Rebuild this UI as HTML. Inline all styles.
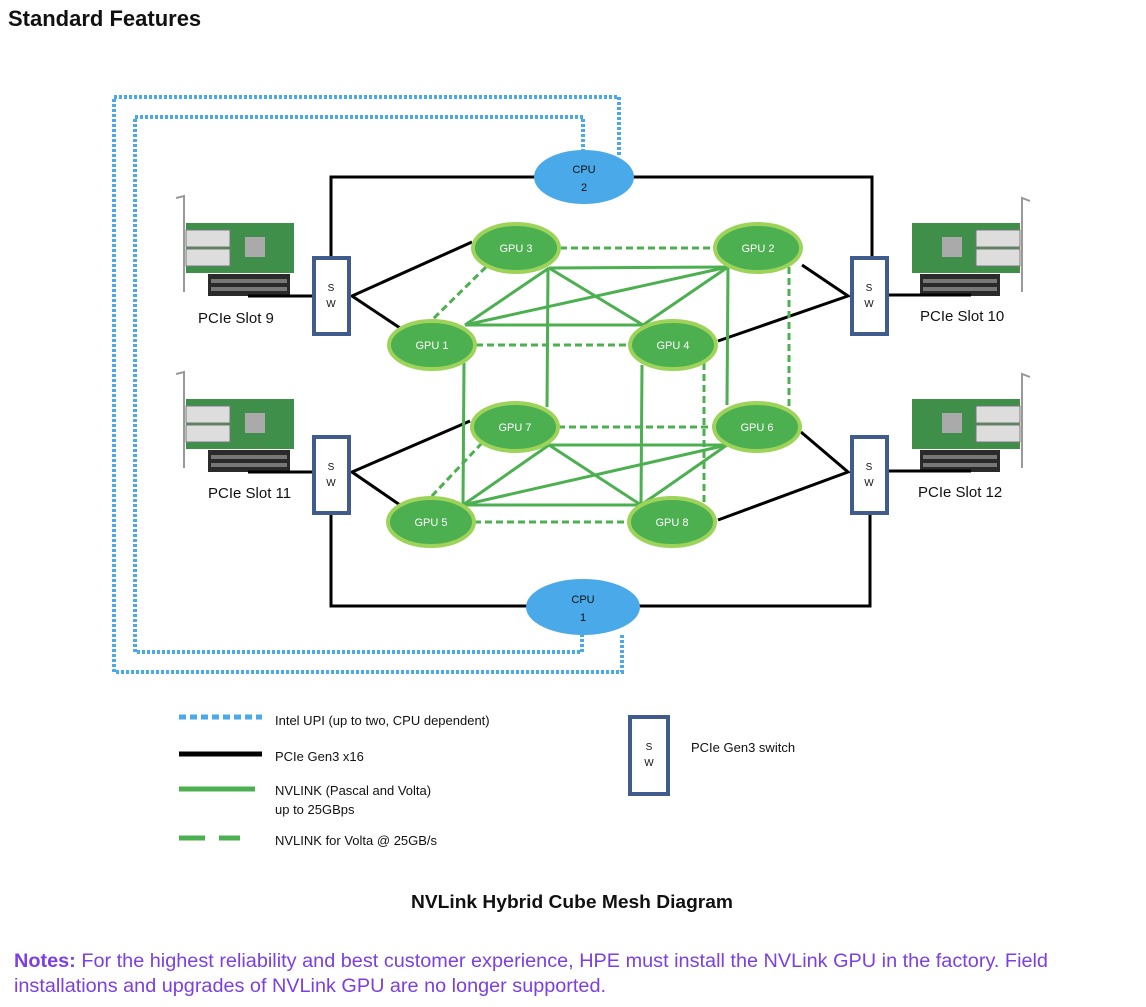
<!DOCTYPE html>
<html><head><meta charset="utf-8"><style>
html,body{margin:0;padding:0;background:#fff;}
svg{display:block;font-family:"Liberation Sans",sans-serif;}
</style></head><body>
<svg width="1146" height="1007" viewBox="0 0 1146 1007" xmlns="http://www.w3.org/2000/svg">
<defs>
<g id="cardL">
  <path d="M176,198 L184,196 L184,292" fill="none" stroke="#999" stroke-width="2"/>
  <rect x="186" y="223" width="108" height="50" fill="#3f8f4a"/>
  <rect x="186" y="230" width="44" height="17" fill="#ddd" stroke="#777"/>
  <rect x="186" y="249" width="44" height="17" fill="#ddd" stroke="#777"/>
  <rect x="245" y="237" width="20" height="20" fill="#aaa"/>
  <rect x="208" y="274" width="82" height="22" fill="#2a2a2a"/>
  <rect x="211" y="279" width="76" height="4" fill="#777"/>
  <rect x="211" y="287" width="76" height="4" fill="#777"/>
</g>
<g id="cardR">
  <path d="M1030,201 L1022,198 L1022,292" fill="none" stroke="#999" stroke-width="2"/>
  <rect x="912" y="223" width="108" height="50" fill="#3f8f4a"/>
  <rect x="976" y="230" width="44" height="17" fill="#ddd" stroke="#777"/>
  <rect x="976" y="249" width="44" height="17" fill="#ddd" stroke="#777"/>
  <rect x="942" y="237" width="20" height="20" fill="#aaa"/>
  <rect x="920" y="274" width="80" height="22" fill="#2a2a2a"/>
  <rect x="923" y="279" width="74" height="4" fill="#777"/>
  <rect x="923" y="287" width="74" height="4" fill="#777"/>
</g>
</defs>

<text x="8" y="26" font-size="22" font-weight="bold" fill="#111">Standard Features</text>

<!-- UPI dotted -->
<g fill="none" stroke="#4aa9e8" stroke-width="4" stroke-dasharray="3 2">
  <polyline points="619,155 619,97 114,97 114,672 622,672 622,634"/>
  <polyline points="583,152 583,117 135,117 135,652 582,652 582,634"/>
</g>

<!-- cards -->
<use href="#cardL"/>
<use href="#cardL" transform="translate(0,176)"/>
<use href="#cardR"/>
<use href="#cardR" transform="translate(0,176)"/>

<!-- PCIe black -->
<g fill="none" stroke="#000" stroke-width="3">
  <polyline points="331,256 331,177 872,177 872,256"/>
  <polyline points="331,513 331,606 870,606 870,513"/>
  <line x1="248" y1="296" x2="312" y2="296"/>
  <line x1="248" y1="472" x2="312" y2="472"/>
  <line x1="888" y1="295" x2="971" y2="295"/>
  <line x1="888" y1="471" x2="971" y2="471"/>
  <polyline points="472,242 352,296 400,328"/>
  <polyline points="802,265 848,296 718,341"/>
  <polyline points="470,421 352,472 400,505"/>
  <polyline points="801,432 848,472 718,520"/>
</g>

<!-- NVLink solid -->
<g stroke="#4caf50" stroke-width="3" fill="none">
  <line x1="549" y1="268" x2="728" y2="267"/>
  <line x1="465" y1="325" x2="643" y2="325"/>
  <line x1="549" y1="268" x2="465" y2="325"/>
  <line x1="549" y1="268" x2="643" y2="325"/>
  <line x1="728" y1="267" x2="465" y2="325"/>
  <line x1="728" y1="267" x2="643" y2="325"/>
  <line x1="548" y1="268" x2="547" y2="407"/>
  <line x1="728" y1="267" x2="727" y2="405"/>
  <line x1="464" y1="363" x2="463" y2="505"/>
  <line x1="642" y1="365" x2="641" y2="505"/>
  <line x1="549" y1="445" x2="727" y2="445"/>
  <line x1="463" y1="505" x2="641" y2="505"/>
  <line x1="549" y1="445" x2="463" y2="505"/>
  <line x1="549" y1="445" x2="641" y2="505"/>
  <line x1="727" y1="445" x2="463" y2="505"/>
  <line x1="727" y1="445" x2="641" y2="505"/>
</g>
<!-- NVLink dashed -->
<g stroke="#4caf50" stroke-width="3" fill="none" stroke-dasharray="7 4">
  <line x1="560" y1="248" x2="716" y2="248"/>
  <line x1="476" y1="345" x2="630" y2="345"/>
  <line x1="558" y1="427" x2="714" y2="427"/>
  <line x1="474" y1="522" x2="630" y2="522"/>
  <line x1="486" y1="267" x2="432" y2="320"/>
  <line x1="482" y1="443" x2="430" y2="498"/>
  <line x1="789" y1="267" x2="789" y2="408"/>
  <line x1="704" y1="363" x2="704" y2="505"/>
</g>

<!-- GPUs -->
<g fill="#4caf50" stroke="#9ed35a" stroke-width="4">
  <ellipse cx="516" cy="248" rx="43" ry="24"/>
  <ellipse cx="758" cy="248" rx="43" ry="24"/>
  <ellipse cx="432" cy="345" rx="43" ry="24"/>
  <ellipse cx="673" cy="345" rx="43" ry="24"/>
  <ellipse cx="515" cy="427" rx="43" ry="24"/>
  <ellipse cx="757" cy="427" rx="43" ry="24"/>
  <ellipse cx="431" cy="522" rx="43" ry="24"/>
  <ellipse cx="672" cy="522" rx="43" ry="24"/>
</g>
<g fill="#fff" font-size="11" text-anchor="middle">
  <text x="516" y="252">GPU 3</text>
  <text x="758" y="252">GPU 2</text>
  <text x="432" y="349">GPU 1</text>
  <text x="673" y="349">GPU 4</text>
  <text x="515" y="431">GPU 7</text>
  <text x="757" y="431">GPU 6</text>
  <text x="431" y="526">GPU 5</text>
  <text x="672" y="526">GPU 8</text>
</g>

<!-- CPUs -->
<ellipse cx="584" cy="177" rx="50" ry="27" fill="#4aa9e8"/>
<ellipse cx="583" cy="607" rx="57" ry="28" fill="#4aa9e8"/>
<g font-size="11" text-anchor="middle" fill="#111">
  <text x="584" y="173">CPU</text><text x="584" y="191">2</text>
  <text x="583" y="603">CPU</text><text x="583" y="621">1</text>
</g>

<!-- Switches -->
<g fill="#fff" stroke="#3f5c8c" stroke-width="4">
  <rect x="314" y="258" width="35" height="76"/>
  <rect x="852" y="258" width="35" height="76"/>
  <rect x="314" y="437" width="35" height="76"/>
  <rect x="852" y="437" width="35" height="76"/>
  <rect x="630" y="717" width="38" height="77"/>
</g>
<g font-size="10" text-anchor="middle" fill="#111">
  <text x="331" y="291">S</text><text x="331" y="307">W</text>
  <text x="869" y="291">S</text><text x="869" y="307">W</text>
  <text x="331" y="470">S</text><text x="331" y="486">W</text>
  <text x="869" y="470">S</text><text x="869" y="486">W</text>
  <text x="649" y="750">S</text><text x="649" y="766">W</text>
</g>

<g font-size="15" fill="#111">
  <text x="198" y="323">PCIe Slot 9</text>
  <text x="920" y="321">PCIe Slot 10</text>
  <text x="208" y="498">PCIe Slot 11</text>
  <text x="918" y="497">PCIe Slot 12</text>
</g>

<!-- Legend -->
<line x1="179" y1="717" x2="262" y2="717" stroke="#4aa9e8" stroke-width="5" stroke-dasharray="7 4"/>
<line x1="179" y1="754" x2="262" y2="754" stroke="#000" stroke-width="5"/>
<line x1="179" y1="789" x2="255" y2="789" stroke="#4caf50" stroke-width="5"/>
<line x1="179" y1="838" x2="205" y2="838" stroke="#4caf50" stroke-width="5"/>
<line x1="219" y1="838" x2="240" y2="838" stroke="#4caf50" stroke-width="5"/>
<g font-size="13" fill="#111">
  <text x="275" y="725">Intel UPI (up to two, CPU dependent)</text>
  <text x="275" y="761">PCIe Gen3 x16</text>
  <text x="275" y="795">NVLINK (Pascal and Volta)</text>
  <text x="275" y="814">up to 25GBps</text>
  <text x="275" y="845">NVLINK for Volta @ 25GB/s</text>
  <text x="691" y="752">PCIe Gen3 switch</text>
</g>

<text x="572" y="908" font-size="18" font-weight="bold" text-anchor="middle" fill="#111" textLength="322" lengthAdjust="spacingAndGlyphs">NVLink Hybrid Cube Mesh Diagram</text>

<g font-size="19" fill="#7b3fe4">
  <text x="14" y="967" textLength="1034" lengthAdjust="spacingAndGlyphs"><tspan font-weight="bold">Notes:</tspan> For the highest reliability and best customer experience, HPE must install the NVLink GPU in the factory.  Field</text>
  <text x="14" y="992" textLength="592" lengthAdjust="spacingAndGlyphs">installations and upgrades of NVLink GPU are no longer supported.</text>
</g>
</svg>
</body></html>
